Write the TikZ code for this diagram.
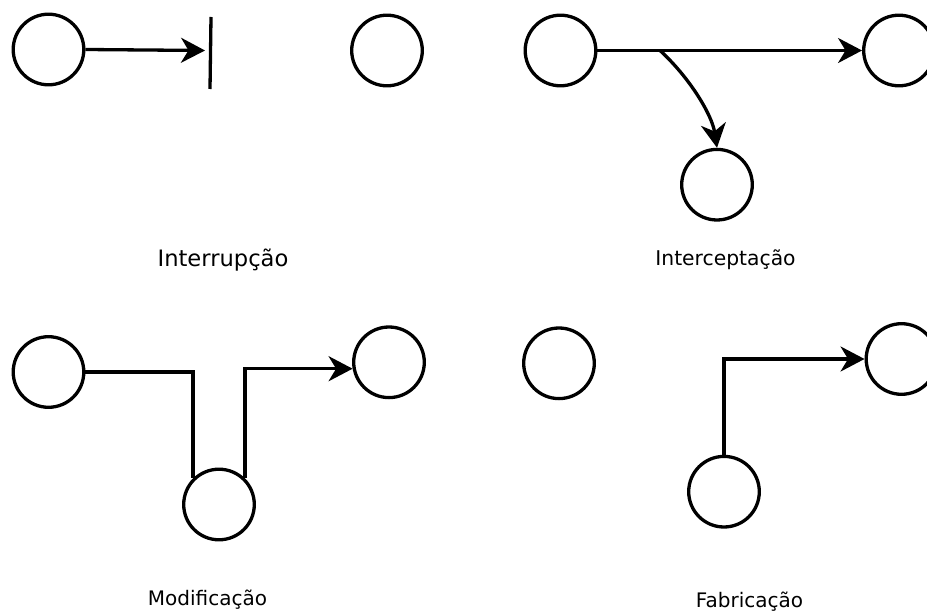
\documentclass[tikz,border=0pt]{standalone}
\usepackage{fontspec}
\setmainfont{DejaVu Sans}
\usetikzlibrary{arrows.meta}
\begin{document}
\begin{tikzpicture}[x=1pt,y=-1pt,line width=3.3pt,
  circ/.style={circle,draw,minimum size=70.6pt,inner sep=0pt},
  arr/.style={-{Stealth[length=24pt,width=25pt,inset=7.5pt]}},
  lbl/.style={anchor=base,inner sep=0pt,font=\fontsize{20}{24}\selectfont}]
\useasboundingbox (0,0) rectangle (927,612);
% Interrupcao
\node[circ] (A) at (48.5,49.5) {};
\node[circ] (B) at (387,50.5) {};
\coordinate (tipA) at (205,50.5);
\coordinate (barT) at (211,17);
\coordinate (barB) at (210,89);
\draw[arr] (A.east) -- (tipA);
\draw (barT) -- (barB);
\node[lbl,font=\fontsize{22.6}{27}\selectfont] (t1) at (223,267) {Interrupção};
% Interceptacao
\node[circ] (C) at (560.5,50.5) {};
\node[circ] (D) at (899,50.5) {};
\node[circ] (E) at (717,184.7) {};
\coordinate (split) at (660,50.5);
\draw[arr] (C.east) -- (D.west);
\draw[arr] (split) .. controls (690,78) and (712,115) .. (E.north);
\node[lbl,font=\fontsize{20.3}{24}\selectfont] (t2) at (725.5,266) {Interceptação};
% Modificacao
\node[circ] (F) at (48.5,372) {};
\node[circ] (G) at (219,504.5) {};
\node[circ] (H) at (389,362.3) {};
\draw (F.east) -| (G.north west);
\draw[arr] (G.north east) |- (H.190);
\node[lbl] (t3) at (207.5,605) {Modificação};
% Fabricacao
\node[circ] (I) at (559,363.3) {};
\node[circ] (J) at (901.5,359) {};
\node[circ] (K) at (724,491.7) {};
\draw[arr] (K.north) |- (J.west);
\node[lbl] (t4) at (749.5,607) {Fabricação};
\end{tikzpicture}
\end{document}
